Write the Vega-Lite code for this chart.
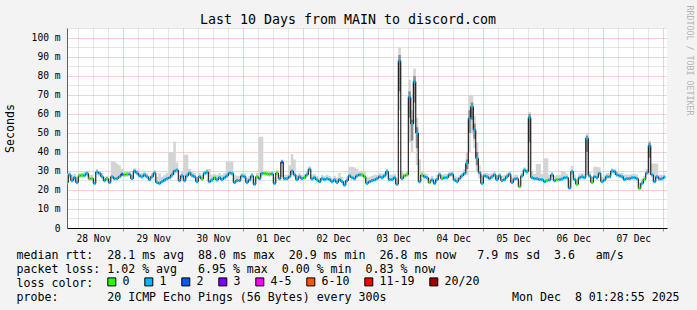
{
"$schema": "https://vega.github.io/schema/vega-lite/v6.json",
"width": 600, "height": 200,
"autosize": {"type": "none"},
"padding": {"left": 67, "top": 28, "right": 30, "bottom": 82},
"background": "#f3f3f3",
"config": {"view": {"fill": "white", "stroke": null}, "font": "DejaVu Sans Mono", "axisRight": {"titleFontSize": 8.3, "titleFont": "DejaVu Sans Mono"}},
"title": {"text": "Last 10 Days from MAIN to discord.com", "font": "DejaVu Sans Mono", "fontSize": 13.3, "fontWeight": "normal", "color": "black", "anchor": "middle", "frame": "group", "dx": -19, "offset": 0, "dy": 32, "baseline": "alphabetic"},
"data": {"values": [
{"t":"2025-11-28T01:30Z","m":24,"lo":23,"hi":28.5,"l":"1"},
{"t":"2025-11-28T02:30Z","m":28,"lo":26.5,"hi":30,"l":"1"},
{"t":"2025-11-28T03:30Z","m":25,"lo":24,"hi":28,"l":"1"},
{"t":"2025-11-28T04:30Z","m":26.5,"lo":25,"hi":28.5,"l":"1"},
{"t":"2025-11-28T05:30Z","m":24,"lo":23,"hi":27,"l":"1"},
{"t":"2025-11-28T06:30Z","m":27.5,"lo":26.5,"hi":29,"l":"0"},
{"t":"2025-11-28T07:30Z","m":27.7,"lo":26.5,"hi":29,"l":"0"},
{"t":"2025-11-28T08:30Z","m":27.7,"lo":26.5,"hi":29.5,"l":"1"},
{"t":"2025-11-28T09:30Z","m":28.8,"lo":27.5,"hi":30,"l":"1"},
{"t":"2025-11-28T10:30Z","m":26,"lo":25,"hi":28,"l":"0"},
{"t":"2025-11-28T11:30Z","m":26,"lo":25,"hi":28,"l":"0"},
{"t":"2025-11-28T12:30Z","m":23.5,"lo":23,"hi":26,"l":"1"},
{"t":"2025-11-28T13:30Z","m":29.5,"lo":28,"hi":31,"l":"1"},
{"t":"2025-11-28T14:30Z","m":28.8,"lo":27.5,"hi":30,"l":"1"},
{"t":"2025-11-28T15:30Z","m":27,"lo":26,"hi":29,"l":"1"},
{"t":"2025-11-28T16:30Z","m":25,"lo":24,"hi":27,"l":"1"},
{"t":"2025-11-28T17:30Z","m":26,"lo":25,"hi":27.5,"l":"0"},
{"t":"2025-11-28T18:30Z","m":24,"lo":23,"hi":26,"l":"1"},
{"t":"2025-11-28T19:30Z","m":27,"lo":26,"hi":35,"l":"1"},
{"t":"2025-11-28T20:30Z","m":26,"lo":25,"hi":35,"l":"1"},
{"t":"2025-11-28T21:30Z","m":26,"lo":25,"hi":34,"l":"1"},
{"t":"2025-11-28T22:30Z","m":27,"lo":26,"hi":33,"l":"1"},
{"t":"2025-11-28T23:30Z","m":28.3,"lo":27,"hi":31,"l":"2"},
{"t":"2025-11-29T00:30Z","m":28,"lo":27,"hi":30,"l":"0"},
{"t":"2025-11-29T01:30Z","m":28.3,"lo":27,"hi":30,"l":"0"},
{"t":"2025-11-29T02:30Z","m":28.3,"lo":27.5,"hi":30,"l":"1"},
{"t":"2025-11-29T03:30Z","m":26,"lo":25,"hi":28,"l":"1"},
{"t":"2025-11-29T04:30Z","m":30,"lo":28.5,"hi":31.5,"l":"1"},
{"t":"2025-11-29T05:30Z","m":29,"lo":28,"hi":30.5,"l":"1"},
{"t":"2025-11-29T06:30Z","m":27.5,"lo":26.5,"hi":29,"l":"1"},
{"t":"2025-11-29T07:30Z","m":27,"lo":26,"hi":29,"l":"1"},
{"t":"2025-11-29T08:30Z","m":28,"lo":27,"hi":30,"l":"1"},
{"t":"2025-11-29T09:30Z","m":27,"lo":26,"hi":29,"l":"1"},
{"t":"2025-11-29T10:30Z","m":25.5,"lo":24.5,"hi":27.5,"l":"1"},
{"t":"2025-11-29T11:30Z","m":27,"lo":26,"hi":29,"l":"1"},
{"t":"2025-11-29T12:30Z","m":29,"lo":28,"hi":30.5,"l":"1"},
{"t":"2025-11-29T13:30Z","m":24,"lo":23,"hi":27,"l":"1"},
{"t":"2025-11-29T14:30Z","m":23.5,"lo":23,"hi":29,"l":"1"},
{"t":"2025-11-29T15:30Z","m":24.4,"lo":23.5,"hi":27,"l":"1"},
{"t":"2025-11-29T16:30Z","m":25.3,"lo":24.5,"hi":28,"l":"1"},
{"t":"2025-11-29T17:30Z","m":26,"lo":25,"hi":29,"l":"1"},
{"t":"2025-11-29T18:30Z","m":26.5,"lo":25.5,"hi":40,"l":"1"},
{"t":"2025-11-29T19:30Z","m":28,"lo":26.5,"hi":40,"l":"1"},
{"t":"2025-11-29T20:30Z","m":30,"lo":28,"hi":45.5,"l":"1"},
{"t":"2025-11-29T21:30Z","m":30.5,"lo":29,"hi":34.5,"l":"1"},
{"t":"2025-11-29T22:30Z","m":25,"lo":24,"hi":28,"l":"1"},
{"t":"2025-11-29T23:30Z","m":27.5,"lo":26.5,"hi":30,"l":"1"},
{"t":"2025-11-30T00:30Z","m":25,"lo":24,"hi":38.5,"l":"1"},
{"t":"2025-11-30T01:30Z","m":27.5,"lo":26.5,"hi":38.5,"l":"1"},
{"t":"2025-11-30T02:30Z","m":29,"lo":28,"hi":31,"l":"1"},
{"t":"2025-11-30T03:30Z","m":27.7,"lo":26.5,"hi":29.5,"l":"1"},
{"t":"2025-11-30T04:30Z","m":27,"lo":26,"hi":29,"l":"1"},
{"t":"2025-11-30T05:30Z","m":24.4,"lo":23.5,"hi":27,"l":"1"},
{"t":"2025-11-30T06:30Z","m":27,"lo":26,"hi":29,"l":"1"},
{"t":"2025-11-30T07:30Z","m":25.8,"lo":25,"hi":28,"l":"0"},
{"t":"2025-11-30T08:30Z","m":28.8,"lo":27.5,"hi":30,"l":"1"},
{"t":"2025-11-30T09:30Z","m":29.5,"lo":28,"hi":31,"l":"1"},
{"t":"2025-11-30T10:30Z","m":24.4,"lo":23.5,"hi":31,"l":"1"},
{"t":"2025-11-30T11:30Z","m":25.3,"lo":24.5,"hi":28,"l":"1"},
{"t":"2025-11-30T12:30Z","m":26.5,"lo":25.5,"hi":28.5,"l":"0"},
{"t":"2025-11-30T13:30Z","m":25.3,"lo":24.5,"hi":28,"l":"1"},
{"t":"2025-11-30T14:30Z","m":26.5,"lo":25.5,"hi":29,"l":"1"},
{"t":"2025-11-30T15:30Z","m":25.5,"lo":24.5,"hi":28,"l":"1"},
{"t":"2025-11-30T16:30Z","m":26.5,"lo":25.5,"hi":29,"l":"1"},
{"t":"2025-11-30T17:30Z","m":27.5,"lo":26.5,"hi":35,"l":"1"},
{"t":"2025-11-30T18:30Z","m":29,"lo":28,"hi":35,"l":"1"},
{"t":"2025-11-30T19:30Z","m":28.8,"lo":27.5,"hi":35,"l":"1"},
{"t":"2025-11-30T20:30Z","m":24,"lo":23,"hi":28,"l":"1"},
{"t":"2025-11-30T21:30Z","m":25,"lo":24,"hi":27.5,"l":"1"},
{"t":"2025-11-30T22:30Z","m":25,"lo":24,"hi":27.5,"l":"1"},
{"t":"2025-11-30T23:30Z","m":27.5,"lo":26.5,"hi":29,"l":"1"},
{"t":"2025-12-01T00:30Z","m":27,"lo":26,"hi":29,"l":"1"},
{"t":"2025-12-01T01:30Z","m":24,"lo":23,"hi":26.5,"l":"1"},
{"t":"2025-12-01T02:30Z","m":25.3,"lo":24.5,"hi":27.5,"l":"1"},
{"t":"2025-12-01T03:30Z","m":27.5,"lo":26.5,"hi":29,"l":"1"},
{"t":"2025-12-01T04:30Z","m":23,"lo":22.5,"hi":26,"l":"1"},
{"t":"2025-12-01T05:30Z","m":27,"lo":26,"hi":29,"l":"0"},
{"t":"2025-12-01T06:30Z","m":26,"lo":25,"hi":48,"l":"1"},
{"t":"2025-12-01T07:30Z","m":28.8,"lo":27.5,"hi":48,"l":"1"},
{"t":"2025-12-01T08:30Z","m":28.8,"lo":27.5,"hi":30,"l":"0"},
{"t":"2025-12-01T09:30Z","m":28.5,"lo":27.5,"hi":30,"l":"0"},
{"t":"2025-12-01T10:30Z","m":28.3,"lo":27,"hi":30,"l":"0"},
{"t":"2025-12-01T11:30Z","m":28.5,"lo":27.5,"hi":30,"l":"1"},
{"t":"2025-12-01T12:30Z","m":23.5,"lo":23,"hi":27,"l":"1"},
{"t":"2025-12-01T13:30Z","m":29,"lo":28,"hi":30.5,"l":"0"},
{"t":"2025-12-01T14:30Z","m":26,"lo":25,"hi":28,"l":"1"},
{"t":"2025-12-01T15:30Z","m":34.7,"lo":27,"hi":36,"l":"2"},
{"t":"2025-12-01T16:30Z","m":26,"lo":25,"hi":28,"l":"1"},
{"t":"2025-12-01T17:30Z","m":26,"lo":25,"hi":28,"l":"1"},
{"t":"2025-12-01T18:30Z","m":27,"lo":26,"hi":33,"l":"1"},
{"t":"2025-12-01T19:30Z","m":30,"lo":28,"hi":39,"l":"1"},
{"t":"2025-12-01T20:30Z","m":28,"lo":27,"hi":36,"l":"1"},
{"t":"2025-12-01T21:30Z","m":25.5,"lo":24.5,"hi":28,"l":"1"},
{"t":"2025-12-01T22:30Z","m":27,"lo":26,"hi":29,"l":"1"},
{"t":"2025-12-01T23:30Z","m":26,"lo":25,"hi":28,"l":"1"},
{"t":"2025-12-02T00:30Z","m":26.5,"lo":25.5,"hi":28.5,"l":"0"},
{"t":"2025-12-02T01:30Z","m":28,"lo":27,"hi":30,"l":"1"},
{"t":"2025-12-02T02:30Z","m":31,"lo":29.5,"hi":32.5,"l":"1"},
{"t":"2025-12-02T03:30Z","m":25.8,"lo":25,"hi":28,"l":"1"},
{"t":"2025-12-02T04:30Z","m":26.5,"lo":25.5,"hi":28.5,"l":"1"},
{"t":"2025-12-02T05:30Z","m":25.3,"lo":24.5,"hi":27.5,"l":"1"},
{"t":"2025-12-02T06:30Z","m":24.4,"lo":23.5,"hi":26.5,"l":"1"},
{"t":"2025-12-02T07:30Z","m":26,"lo":25,"hi":28,"l":"1"},
{"t":"2025-12-02T08:30Z","m":25.5,"lo":24.5,"hi":27.5,"l":"1"},
{"t":"2025-12-02T09:30Z","m":26,"lo":25,"hi":28,"l":"1"},
{"t":"2025-12-02T10:30Z","m":25.5,"lo":24.5,"hi":27.5,"l":"1"},
{"t":"2025-12-02T11:30Z","m":24.4,"lo":23.5,"hi":26.5,"l":"1"},
{"t":"2025-12-02T12:30Z","m":25.3,"lo":24.5,"hi":27.5,"l":"1"},
{"t":"2025-12-02T13:30Z","m":24,"lo":23,"hi":26.5,"l":"1"},
{"t":"2025-12-02T14:30Z","m":25.5,"lo":24.5,"hi":29,"l":"1"},
{"t":"2025-12-02T15:30Z","m":24.4,"lo":23.5,"hi":27,"l":"1"},
{"t":"2025-12-02T16:30Z","m":22.6,"lo":22,"hi":25,"l":"1"},
{"t":"2025-12-02T17:30Z","m":25,"lo":24,"hi":27,"l":"1"},
{"t":"2025-12-02T18:30Z","m":27.5,"lo":26.5,"hi":32.3,"l":"1"},
{"t":"2025-12-02T19:30Z","m":26.5,"lo":25.5,"hi":32.3,"l":"1"},
{"t":"2025-12-02T20:30Z","m":26,"lo":25,"hi":32,"l":"1"},
{"t":"2025-12-02T21:30Z","m":27.5,"lo":26.5,"hi":31,"l":"1"},
{"t":"2025-12-02T22:30Z","m":28,"lo":27,"hi":30,"l":"1"},
{"t":"2025-12-02T23:30Z","m":28,"lo":27,"hi":30,"l":"0"},
{"t":"2025-12-03T00:30Z","m":27,"lo":26,"hi":29.5,"l":"0"},
{"t":"2025-12-03T01:30Z","m":23.5,"lo":23,"hi":27,"l":"1"},
{"t":"2025-12-03T02:30Z","m":24.4,"lo":23.5,"hi":27,"l":"1"},
{"t":"2025-12-03T03:30Z","m":25,"lo":24,"hi":27.5,"l":"1"},
{"t":"2025-12-03T04:30Z","m":25.3,"lo":24.5,"hi":28,"l":"1"},
{"t":"2025-12-03T05:30Z","m":26,"lo":25,"hi":28,"l":"1"},
{"t":"2025-12-03T06:30Z","m":27,"lo":26,"hi":29,"l":"1"},
{"t":"2025-12-03T07:30Z","m":26.5,"lo":25.5,"hi":28.5,"l":"1"},
{"t":"2025-12-03T08:30Z","m":27.5,"lo":26.5,"hi":29,"l":"1"},
{"t":"2025-12-03T09:30Z","m":29.7,"lo":28,"hi":31,"l":"1"},
{"t":"2025-12-03T10:30Z","m":25.5,"lo":24.5,"hi":28,"l":"1"},
{"t":"2025-12-03T11:30Z","m":25.5,"lo":24.5,"hi":28,"l":"1"},
{"t":"2025-12-03T12:30Z","m":26.5,"lo":25.5,"hi":28.5,"l":"1"},
{"t":"2025-12-03T13:30Z","m":23,"lo":22.5,"hi":26,"l":"1"},
{"t":"2025-12-03T14:30Z","m":88,"lo":62,"hi":95,"l":"1"},
{"t":"2025-12-03T15:30Z","m":26,"lo":25,"hi":30,"l":"1"},
{"t":"2025-12-03T16:30Z","m":27.5,"lo":26.5,"hi":29,"l":"0"},
{"t":"2025-12-03T17:30Z","m":28,"lo":27,"hi":29.5,"l":"0"},
{"t":"2025-12-03T18:30Z","m":69,"lo":45,"hi":78,"l":"1"},
{"t":"2025-12-03T19:30Z","m":54.7,"lo":40,"hi":62,"l":"1"},
{"t":"2025-12-03T20:30Z","m":77,"lo":55,"hi":84,"l":"1"},
{"t":"2025-12-03T21:30Z","m":50,"lo":33,"hi":58,"l":"1"},
{"t":"2025-12-03T22:30Z","m":24.4,"lo":23.5,"hi":36,"l":"1"},
{"t":"2025-12-03T23:30Z","m":27.9,"lo":27,"hi":30,"l":"0"},
{"t":"2025-12-04T00:30Z","m":27,"lo":26,"hi":29,"l":"1"},
{"t":"2025-12-04T01:30Z","m":26.5,"lo":25.5,"hi":28.5,"l":"1"},
{"t":"2025-12-04T02:30Z","m":24,"lo":23,"hi":26.5,"l":"0"},
{"t":"2025-12-04T03:30Z","m":25.3,"lo":24.5,"hi":27.5,"l":"1"},
{"t":"2025-12-04T04:30Z","m":23.5,"lo":23,"hi":26,"l":"1"},
{"t":"2025-12-04T05:30Z","m":25.5,"lo":24.5,"hi":28,"l":"1"},
{"t":"2025-12-04T06:30Z","m":28,"lo":27,"hi":30,"l":"1"},
{"t":"2025-12-04T07:30Z","m":26,"lo":25,"hi":28,"l":"0"},
{"t":"2025-12-04T08:30Z","m":26.5,"lo":25.5,"hi":28.5,"l":"1"},
{"t":"2025-12-04T09:30Z","m":26.5,"lo":25.5,"hi":28.5,"l":"1"},
{"t":"2025-12-04T10:30Z","m":28,"lo":27,"hi":29.5,"l":"1"},
{"t":"2025-12-04T11:30Z","m":28.3,"lo":27,"hi":30,"l":"1"},
{"t":"2025-12-04T12:30Z","m":25.3,"lo":24.5,"hi":27.5,"l":"1"},
{"t":"2025-12-04T13:30Z","m":24.4,"lo":23.5,"hi":27,"l":"1"},
{"t":"2025-12-04T14:30Z","m":26,"lo":25,"hi":28,"l":"1"},
{"t":"2025-12-04T15:30Z","m":27.5,"lo":26.5,"hi":29,"l":"1"},
{"t":"2025-12-04T16:30Z","m":28.8,"lo":27.5,"hi":31,"l":"1"},
{"t":"2025-12-04T17:30Z","m":34,"lo":28,"hi":40,"l":"1"},
{"t":"2025-12-04T18:30Z","m":57.7,"lo":40,"hi":70,"l":"1"},
{"t":"2025-12-04T19:30Z","m":63.9,"lo":50,"hi":70,"l":"1"},
{"t":"2025-12-04T20:30Z","m":51.6,"lo":42,"hi":59,"l":"1"},
{"t":"2025-12-04T21:30Z","m":36.7,"lo":30,"hi":45,"l":"1"},
{"t":"2025-12-04T22:30Z","m":29.1,"lo":26,"hi":33,"l":"1"},
{"t":"2025-12-04T23:30Z","m":23.5,"lo":23,"hi":28,"l":"1"},
{"t":"2025-12-05T00:30Z","m":27.5,"lo":26.5,"hi":29,"l":"1"},
{"t":"2025-12-05T01:30Z","m":27,"lo":26,"hi":29,"l":"1"},
{"t":"2025-12-05T02:30Z","m":26,"lo":25,"hi":28.5,"l":"1"},
{"t":"2025-12-05T03:30Z","m":27,"lo":26,"hi":29,"l":"1"},
{"t":"2025-12-05T04:30Z","m":28,"lo":27,"hi":29.5,"l":"1"},
{"t":"2025-12-05T05:30Z","m":25.5,"lo":24.5,"hi":28,"l":"1"},
{"t":"2025-12-05T06:30Z","m":27.5,"lo":26.5,"hi":29,"l":"1"},
{"t":"2025-12-05T07:30Z","m":25,"lo":24,"hi":27.5,"l":"1"},
{"t":"2025-12-05T08:30Z","m":25.5,"lo":24.5,"hi":28,"l":"1"},
{"t":"2025-12-05T09:30Z","m":27,"lo":26,"hi":29,"l":"1"},
{"t":"2025-12-05T10:30Z","m":28.3,"lo":27,"hi":30,"l":"1"},
{"t":"2025-12-05T11:30Z","m":24,"lo":23,"hi":27,"l":"1"},
{"t":"2025-12-05T12:30Z","m":25.8,"lo":25,"hi":28,"l":"1"},
{"t":"2025-12-05T13:30Z","m":26,"lo":25,"hi":28,"l":"1"},
{"t":"2025-12-05T14:30Z","m":21.8,"lo":21,"hi":25,"l":"0"},
{"t":"2025-12-05T15:30Z","m":27.5,"lo":26.5,"hi":29,"l":"1"},
{"t":"2025-12-05T16:30Z","m":30.5,"lo":29,"hi":32,"l":"1"},
{"t":"2025-12-05T17:30Z","m":29.7,"lo":28,"hi":31,"l":"1"},
{"t":"2025-12-05T18:30Z","m":58.1,"lo":30,"hi":61,"l":"1"},
{"t":"2025-12-05T19:30Z","m":26.5,"lo":25.5,"hi":30,"l":"1"},
{"t":"2025-12-05T20:30Z","m":26,"lo":25,"hi":28.5,"l":"1"},
{"t":"2025-12-05T21:30Z","m":26,"lo":25,"hi":33.7,"l":"1"},
{"t":"2025-12-05T22:30Z","m":25.5,"lo":24.5,"hi":33.7,"l":"1"},
{"t":"2025-12-05T23:30Z","m":25.5,"lo":24.5,"hi":28.5,"l":"1"},
{"t":"2025-12-06T00:30Z","m":24.4,"lo":23.5,"hi":36.7,"l":"1"},
{"t":"2025-12-06T01:30Z","m":25,"lo":24,"hi":36.7,"l":"0"},
{"t":"2025-12-06T02:30Z","m":25.3,"lo":24.5,"hi":28,"l":"1"},
{"t":"2025-12-06T03:30Z","m":28,"lo":27,"hi":29.5,"l":"1"},
{"t":"2025-12-06T04:30Z","m":25,"lo":24,"hi":27.5,"l":"1"},
{"t":"2025-12-06T05:30Z","m":25.5,"lo":24.5,"hi":28,"l":"0"},
{"t":"2025-12-06T06:30Z","m":25.5,"lo":24.5,"hi":28,"l":"1"},
{"t":"2025-12-06T07:30Z","m":25.8,"lo":25,"hi":29.6,"l":"1"},
{"t":"2025-12-06T08:30Z","m":26.5,"lo":25.5,"hi":29.6,"l":"1"},
{"t":"2025-12-06T09:30Z","m":26.5,"lo":25.5,"hi":28.5,"l":"1"},
{"t":"2025-12-06T10:30Z","m":21,"lo":20.5,"hi":25,"l":"1"},
{"t":"2025-12-06T11:30Z","m":29.7,"lo":28,"hi":32.6,"l":"1"},
{"t":"2025-12-06T12:30Z","m":25.5,"lo":24.5,"hi":28,"l":"1"},
{"t":"2025-12-06T13:30Z","m":23,"lo":22.5,"hi":26,"l":"0"},
{"t":"2025-12-06T14:30Z","m":26.5,"lo":25.5,"hi":28.5,"l":"1"},
{"t":"2025-12-06T15:30Z","m":27,"lo":26,"hi":29,"l":"1"},
{"t":"2025-12-06T16:30Z","m":26.5,"lo":25.5,"hi":28.5,"l":"1"},
{"t":"2025-12-06T17:30Z","m":47.2,"lo":28,"hi":49.8,"l":"1"},
{"t":"2025-12-06T18:30Z","m":27.5,"lo":26.5,"hi":29.5,"l":"1"},
{"t":"2025-12-06T19:30Z","m":24,"lo":23,"hi":27,"l":"0"},
{"t":"2025-12-06T20:30Z","m":27,"lo":26,"hi":32.3,"l":"1"},
{"t":"2025-12-06T21:30Z","m":26.5,"lo":25.5,"hi":32.3,"l":"1"},
{"t":"2025-12-06T22:30Z","m":28.8,"lo":27.5,"hi":32,"l":"1"},
{"t":"2025-12-06T23:30Z","m":24.4,"lo":23.5,"hi":27,"l":"1"},
{"t":"2025-12-07T00:30Z","m":25.3,"lo":24.5,"hi":28,"l":"1"},
{"t":"2025-12-07T01:30Z","m":27,"lo":26,"hi":29,"l":"1"},
{"t":"2025-12-07T02:30Z","m":27,"lo":26,"hi":29,"l":"1"},
{"t":"2025-12-07T03:30Z","m":30,"lo":28.5,"hi":31.5,"l":"1"},
{"t":"2025-12-07T04:30Z","m":29.7,"lo":28,"hi":31,"l":"1"},
{"t":"2025-12-07T05:30Z","m":28,"lo":27,"hi":29.5,"l":"1"},
{"t":"2025-12-07T06:30Z","m":27.5,"lo":26.5,"hi":29,"l":"1"},
{"t":"2025-12-07T07:30Z","m":27,"lo":26,"hi":29,"l":"1"},
{"t":"2025-12-07T08:30Z","m":25.5,"lo":24.5,"hi":28,"l":"1"},
{"t":"2025-12-07T09:30Z","m":26,"lo":25,"hi":28,"l":"1"},
{"t":"2025-12-07T10:30Z","m":26,"lo":25,"hi":28,"l":"1"},
{"t":"2025-12-07T11:30Z","m":26.5,"lo":25.5,"hi":28.5,"l":"1"},
{"t":"2025-12-07T12:30Z","m":26.5,"lo":25.5,"hi":28.5,"l":"1"},
{"t":"2025-12-07T13:30Z","m":26,"lo":25,"hi":28,"l":"1"},
{"t":"2025-12-07T14:30Z","m":20.9,"lo":20.5,"hi":24,"l":"0"},
{"t":"2025-12-07T15:30Z","m":23.5,"lo":23,"hi":26,"l":"1"},
{"t":"2025-12-07T16:30Z","m":25.6,"lo":24.5,"hi":27.5,"l":"0"},
{"t":"2025-12-07T17:30Z","m":29.1,"lo":28,"hi":31,"l":"1"},
{"t":"2025-12-07T18:30Z","m":43.3,"lo":28,"hi":45.8,"l":"1"},
{"t":"2025-12-07T19:30Z","m":28,"lo":27,"hi":34,"l":"1"},
{"t":"2025-12-07T20:30Z","m":24.4,"lo":23.5,"hi":34,"l":"1"},
{"t":"2025-12-07T21:30Z","m":27,"lo":26,"hi":34,"l":"1"},
{"t":"2025-12-07T22:30Z","m":25.8,"lo":25,"hi":28,"l":"1"},
{"t":"2025-12-07T23:30Z","m":26,"lo":25,"hi":28,"l":"1"},
{"t":"2025-12-08T00:30Z","m":26.8,"lo":25.5,"hi":28.5,"l":"1"}
]},
"encoding": {
  "x": {"field": "t", "type": "temporal",
    "scale": {"type": "utc", "domain": [{"year": 2025, "month": 11, "date": 28, "hours": 1, "minutes": 28, "seconds": 55, "utc": true}, {"year": 2025, "month": 12, "date": 8, "hours": 1, "minutes": 28, "seconds": 55, "utc": true}]},
    "axis": {"orient": "bottom",
      "title": ["median\u00a0rtt:\u00a0\u00a028.1\u00a0ms\u00a0avg\u00a0\u00a088.0\u00a0ms\u00a0max\u00a0\u00a020.9\u00a0ms\u00a0min\u00a0\u00a026.8\u00a0ms\u00a0now\u00a0\u00a0\u00a07.9\u00a0ms\u00a0sd\u00a0\u00a03.6\u00a0\u00a0\u00a0am/s", "packet\u00a0loss:\u00a01.02\u00a0%\u00a0avg\u00a0\u00a0\u00a06.95\u00a0%\u00a0max\u00a0\u00a00.00\u00a0%\u00a0min\u00a0\u00a00.83\u00a0%\u00a0now", "loss\u00a0color:", "probe:\u00a0\u00a0\u00a0\u00a0\u00a0\u00a0\u00a020\u00a0ICMP\u00a0Echo\u00a0Pings\u00a0(56\u00a0Bytes)\u00a0every\u00a0300s\u00a0\u00a0\u00a0\u00a0\u00a0\u00a0\u00a0\u00a0\u00a0\u00a0\u00a0\u00a0\u00a0\u00a0\u00a0\u00a0\u00a0\u00a0Mon\u00a0Dec\u00a0\u00a08\u00a001:28:55\u00a02025"],
      "titleFont": "DejaVu Sans Mono", "titleFontSize": 11.6, "titleFontWeight": "normal", "titleColor": "black",
      "titleX": -51, "titleY": 30, "titleAlign": "left", "titleBaseline": "alphabetic", "titleLineHeight": 14,
      "tickCount": 40,
      "grid": true, "gridDash": [1, 1], "gridWidth": 1,
      "gridColor": {"condition": {"test": "datum.value % 86400000 == 0", "value": "#f0a0a0"}, "value": "#cccccc"},
      "ticks": true, "tickSize": 3,
      "tickColor": {"condition": {"test": "datum.value % 86400000 == 0", "value": "#e07070"}, "value": "#ffffff00"},
      "format": "%d %b",
      "labelExpr": "datum.value % 86400000 == 43200000 ? datum.label : ''",
      "labelFont": "DejaVu Sans Mono", "labelFontSize": 9.6, "labelColor": "black", "labelPadding": 10, "labelBaseline": "alphabetic",
      "labelOverlap": false, "labelFlush": false, "domainColor": "black", "domainWidth": 1}
  }
},
"layer": [
  {"mark": {"type": "area", "interpolate": "step", "color": "#d4d4d4", "clip": true},
   "encoding": {
     "y": {"field": "lo", "type": "quantitative", "scale": {"domain": [0, 105.26], "nice": false, "zero": false},
       "axis": {"orient": "left", "title": "Seconds", "titleFont": "DejaVu Sans Mono", "titleFontSize": 11.6, "titleFontWeight": "normal", "titleColor": "black",
         "titleX": -57, "titleY": 100, "titleAngle": -90, "titleAlign": "center", "titleBaseline": "middle",
         "values": [0, 5, 10, 15, 20, 25, 30, 35, 40, 45, 50, 55, 60, 65, 70, 75, 80, 85, 90, 95, 100, 105],
         "grid": true, "gridDash": [1, 1],
         "gridColor": {"condition": {"test": "datum.value % 10 == 0", "value": "#f0a0a0"}, "value": "#cccccc"},
         "ticks": false,
         "labelExpr": "datum.value == 0 ? '0' : (datum.value % 10 == 0 ? datum.value + ' m' : '')",
         "labelFont": "DejaVu Sans Mono", "labelFontSize": 9.6, "labelColor": "black", "labelPadding": 7,
         "labelOverlap": false, "labelFlush": false, "domainColor": "#606060"}},
     "y2": {"field": "hi"}}},
  {"data": {"values": [
     {"t":"2025-12-03T13:30Z","a":23,"b":23},
     {"t":"2025-12-03T14:30Z","a":72,"b":91},
     {"t":"2025-12-03T15:30Z","a":26,"b":26},
     {"t":"2025-12-03T17:30Z","a":28,"b":28},
     {"t":"2025-12-03T18:30Z","a":58,"b":72},
     {"t":"2025-12-03T19:30Z","a":46,"b":57},
     {"t":"2025-12-03T20:30Z","a":66,"b":80},
     {"t":"2025-12-03T21:30Z","a":42,"b":53},
     {"t":"2025-12-03T22:30Z","a":24.4,"b":24.4},
     {"t":"2025-12-04T16:30Z","a":28.8,"b":28.8},
     {"t":"2025-12-04T17:30Z","a":31,"b":36},
     {"t":"2025-12-04T18:30Z","a":50,"b":62},
     {"t":"2025-12-04T19:30Z","a":57,"b":66},
     {"t":"2025-12-04T20:30Z","a":47,"b":55},
     {"t":"2025-12-04T21:30Z","a":33,"b":40},
     {"t":"2025-12-04T22:30Z","a":29.1,"b":29.1},
     {"t":"2025-12-05T17:30Z","a":29.7,"b":29.7},
     {"t":"2025-12-05T18:30Z","a":45,"b":60},
     {"t":"2025-12-05T19:30Z","a":26.5,"b":26.5},
     {"t":"2025-12-06T16:30Z","a":26.5,"b":26.5},
     {"t":"2025-12-06T17:30Z","a":40,"b":48.5},
     {"t":"2025-12-06T18:30Z","a":27.5,"b":27.5},
     {"t":"2025-12-07T17:30Z","a":29.1,"b":29.1},
     {"t":"2025-12-07T18:30Z","a":37,"b":45},
     {"t":"2025-12-07T19:30Z","a":28,"b":28}
   ]},
   "mark": {"type": "area", "interpolate": "step", "color": "#8c8c8c", "clip": true},
   "encoding": {
     "y": {"field": "a", "type": "quantitative", "axis": null},
     "y2": {"field": "b"}}},
  {"mark": {"type": "line", "interpolate": "step", "color": "black", "strokeWidth": 1, "clip": true},
   "encoding": {
     "y": {"field": "m", "type": "quantitative",
       "axis": {"orient": "right", "title": "RRDTOOL / TOBI OETIKER", "labels": false, "ticks": false, "domain": false, "grid": false,
         "titleFont": "DejaVu Sans Mono", "titleFontSize": 8.3, "titleFontWeight": "normal", "titleColor": "#b4b4b4",
         "titleAngle": 90, "titleX": 21, "titleY": -23, "titleAlign": "left", "titleBaseline": "middle"}}}},
  {"mark": {"type": "tick", "orient": "horizontal", "thickness": 3, "size": 2, "opacity": 1, "clip": true},
   "encoding": {
     "y": {"field": "m", "type": "quantitative", "axis": null},
     "fill": {"field": "l", "type": "nominal",
       "scale": {"domain": ["0", "1", "2", "3", "4-5", "6-10", "11-19", "20/20"], "range": ["#26ff00", "#00b8ff", "#0059ff", "#7e00ff", "#ff00ff", "#ff5500", "#ff0000", "#a10000"]},
       "legend": {"orient": "none", "legendX": 39, "legendY": 248, "direction": "horizontal", "columns": 8, "title": null,
         "symbolType": "square", "symbolSize": 64, "symbolStrokeColor": "black", "symbolStrokeWidth": 1, "symbolOpacity": 1,
         "labelFont": "DejaVu Sans Mono", "labelFontSize": 11.6, "labelColor": "black", "labelOffset": 5, "columnPadding": 12, "padding": 0}}}}
],
"resolve": {"axis": {"y": "independent"}}
}
